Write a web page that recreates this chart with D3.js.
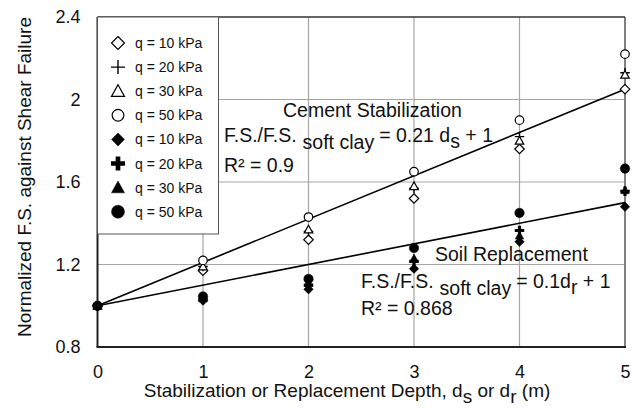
<!DOCTYPE html>
<html>
<head>
<meta charset="utf-8">
<script src="https://cdn.jsdelivr.net/npm/d3@7"></script>
<style>
  body { margin: 0; background: #fff; }
  text { font-family: "Liberation Sans", Arial, sans-serif; fill: #111; }
</style>
</head>
<body>
<div id="chart"></div>
<script>
// depths (m)
let depth = [0, 1, 2, 3, 4, 5];

// cement stabilization (open markers)
let cement10 = [1, 1.17, 1.32, 1.52, 1.76, 2.05];
let cement20 = [1, 1.19, 1.36, 1.57, 1.82, 2.13];
let cement30 = [1, 1.19, 1.37, 1.58, 1.80, 2.12];
let cement50 = [1, 1.22, 1.43, 1.65, 1.90, 2.22];

// soil replacement (filled markers)
let soil10 = [1, 1.025, 1.08, 1.18, 1.31, 1.48];
let soil20 = [1, 1.03, 1.10, 1.215, 1.365, 1.555];
let soil30 = [1, 1.035, 1.11, 1.23, 1.34, 1.56];
let soil50 = [1, 1.045, 1.13, 1.28, 1.45, 1.665];

// linear fits [slope, intercept]
let cementFit = [0.21, 1];
let soilFit = [0.1, 1];

let xTicks = [0, 1, 2, 3, 4, 5];
let yTicks = [0.8, 1.2, 1.6, 2.0, 2.4];
let legendLabels = ["q = 10 kPa", "q = 20 kPa", "q = 30 kPa", "q = 50 kPa",
                    "q = 10 kPa", "q = 20 kPa", "q = 30 kPa", "q = 50 kPa"];

let series = [
  { vals: cement10, shape: "diamond", filled: false },
  { vals: cement20, shape: "plus", filled: false },
  { vals: cement30, shape: "triangle", filled: false },
  { vals: cement50, shape: "circle", filled: false },
  { vals: soil10, shape: "diamond", filled: true },
  { vals: soil20, shape: "plus", filled: true },
  { vals: soil30, shape: "triangle", filled: true },
  { vals: soil50, shape: "circle", filled: true }
];

let W = 640, H = 408;
let m = { left: 97.5, right: 15, top: 17, bottom: 61 };

let svg = d3.select("#chart").append("svg").attr("width", W).attr("height", H);

let xScale = d3.scaleLinear().domain([0, 5]).range([m.left, W - m.right]);
let yScale = d3.scaleLinear().domain([0.8, 2.4]).range([H - m.bottom, m.top]);

// gridlines
svg.append("g")
  .selectAll("line")
  .data(xTicks.slice(1, -1))
  .enter().append("line")
  .attr("x1", d => xScale(d)).attr("x2", d => xScale(d))
  .attr("y1", yScale(0.8)).attr("y2", yScale(2.4))
  .attr("stroke", "#a6a6a6").attr("stroke-width", 1.2);
svg.append("g")
  .selectAll("line")
  .data(yTicks.slice(1, -1))
  .enter().append("line")
  .attr("x1", xScale(0)).attr("x2", xScale(5))
  .attr("y1", d => yScale(d)).attr("y2", d => yScale(d))
  .attr("stroke", "#a6a6a6").attr("stroke-width", 1.2);

// frame
svg.append("line").attr("x1", xScale(5)).attr("x2", xScale(5))
  .attr("y1", yScale(0.8)).attr("y2", yScale(2.4))
  .attr("stroke", "#808080").attr("stroke-width", 2);
svg.append("line").attr("x1", xScale(0)).attr("x2", xScale(5))
  .attr("y1", yScale(2.4)).attr("y2", yScale(2.4))
  .attr("stroke", "#333").attr("stroke-width", 1.5);
svg.append("line").attr("x1", xScale(0)).attr("x2", xScale(0))
  .attr("y1", yScale(0.8)).attr("y2", yScale(2.4))
  .attr("stroke", "#222").attr("stroke-width", 2);
svg.append("line").attr("x1", xScale(0) - 1).attr("x2", xScale(5) + 1)
  .attr("y1", yScale(0.8)).attr("y2", yScale(0.8))
  .attr("stroke", "#222").attr("stroke-width", 2);

// axes (labels only)
let xAxis = svg.append("g")
  .attr("transform", "translate(0," + (H - m.bottom) + ")")
  .call(d3.axisBottom(xScale).tickValues(xTicks).tickSize(0).tickPadding(18).tickFormat(d3.format("d")));
let yAxis = svg.append("g")
  .attr("transform", "translate(" + m.left + ",0)")
  .call(d3.axisLeft(yScale).tickValues(yTicks).tickSize(0).tickPadding(17)
    .tickFormat(d => d == 2 ? "2" : d3.format(".1f")(d)));
[xAxis, yAxis].forEach(a => {
  a.select(".domain").remove();
  a.selectAll("text").style("font-size", "18px").style("font-family", "Liberation Sans, Arial, sans-serif").attr("fill", "#111");
});

// fit lines
function fitLine(fit) {
  return [0, 5].map(d => [xScale(d), yScale(fit[0] * d + fit[1])]);
}
svg.append("path").attr("d", d3.line()(fitLine(cementFit)))
  .attr("stroke", "#000").attr("stroke-width", 1.6).attr("fill", "none");
svg.append("path").attr("d", d3.line()(fitLine(soilFit)))
  .attr("stroke", "#000").attr("stroke-width", 1.6).attr("fill", "none");

// markers, s = overall width in px
function marker(g, shape, filled, s) {
  let h = s / 2;
  if (shape == "plus") {
    if (filled) {
      g.append("path").attr("d", d3.symbol().type(d3.symbolCross).size(5 * (s / 3) * (s / 3))())
        .attr("fill", "#000");
    } else {
      g.append("path").attr("d", `M${-h},0H${h}M0,${-h}V${h}`)
        .attr("stroke", "#000").attr("stroke-width", 1.4);
    }
    return;
  }
  let p;
  if (shape == "diamond") {
    p = g.append("path").attr("d", `M0,${-h}L${h},0L0,${h}L${-h},0Z`);
  } else if (shape == "triangle") {
    p = g.append("path").attr("d", `M0,${-h}L${h},${h * 0.8}L${-h},${h * 0.8}Z`);
  } else {
    p = g.append("circle").attr("r", filled ? h : h * 0.9);
  }
  p.attr("fill", filled ? "#000" : "#fff")
    .attr("stroke", "#000").attr("stroke-width", filled ? 0.5 : 1.2);
}

series.forEach(sr => {
  sr.vals.forEach((v, i) => {
    let g = svg.append("g").attr("transform", `translate(${xScale(depth[i])},${yScale(v)})`);
    marker(g, sr.shape, sr.filled, sr.shape == "triangle" ? 8.5 : 9.5);
  });
});

// legend
let lg = svg.append("g");
lg.append("rect").attr("x", xScale(0)).attr("y", yScale(2.4))
  .attr("width", 121).attr("height", 217)
  .attr("fill", "#fff").attr("stroke", "#555").attr("stroke-width", 1);
legendLabels.forEach((lab, i) => {
  let y = 43 + i * 24.1;
  let g = lg.append("g").attr("transform", `translate(118,${y})`);
  marker(g, series[i].shape, series[i].filled, series[i].shape == "plus" ? 14 : 13);
  lg.append("text").attr("x", 135).attr("y", y + 5).style("font-size", "14px").text(lab);
});

// annotations
function eq(x, y, rhs, sub) {
  let t = svg.append("text").attr("x", x).attr("y", y).style("font-size", "19.5px");
  t.append("tspan").text("F.S./F.S.");
  t.append("tspan").attr("dy", 7).attr("dx", 6).text("soft clay");
  t.append("tspan").attr("dy", -7).attr("dx", 5).text(rhs);
  t.append("tspan").attr("dy", 6).text(sub);
  t.append("tspan").attr("dy", -6).text(" + 1");
}
svg.append("text").attr("x", 283).attr("y", 117).style("font-size", "19.5px").text("Cement Stabilization");
eq(224, 142, "= 0.21 d", "s");
svg.append("text").attr("x", 224).attr("y", 172).style("font-size", "19.5px").text("R\u00b2 = 0.9");

svg.append("text").attr("x", 435).attr("y", 261).style("font-size", "19.5px").text("Soil Replacement");
eq(361, 288, "= 0.1d", "r");
svg.append("text").attr("x", 361).attr("y", 315).style("font-size", "19.5px").text("R\u00b2 = 0.868");

// axis titles
let xt = svg.append("text").attr("x", 347).attr("y", 397).attr("text-anchor", "middle").style("font-size", "19px");
xt.append("tspan").text("Stabilization or Replacement Depth, d");
xt.append("tspan").attr("dy", 6).text("s");
xt.append("tspan").attr("dy", -6).text(" or d");
xt.append("tspan").attr("dy", 6).text("r");
xt.append("tspan").attr("dy", -6).text(" (m)");

svg.append("text")
  .attr("transform", "translate(31,177) rotate(-90)")
  .attr("text-anchor", "middle").style("font-size", "19px")
  .text("Normalized F.S. against Shear Failure");
</script>
</body>
</html>
